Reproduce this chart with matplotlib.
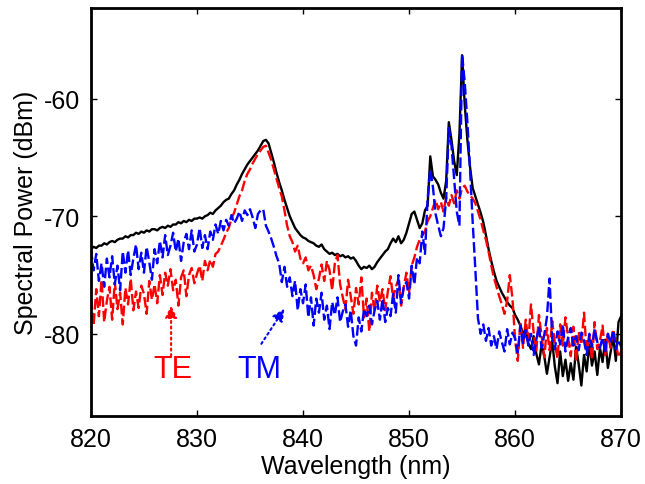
import numpy as np
import matplotlib
matplotlib.use('Agg')
import matplotlib.pyplot as plt

plt.rcParams['font.family'] = ['Liberation Sans', 'DejaVu Sans']
plt.rcParams['axes.unicode_minus'] = False

# wavelength grid of the OSA trace, 0.25 nm step
wl = np.linspace(820, 870, 201)

# total output (solid black)
total = [
    -72.8, -72.6, -72.7, -72.5, -72.5, -72.3, -72.4, -72.2,
    -72.1, -72.2, -72.0, -71.9, -71.9, -71.7, -71.8, -71.6,
    -71.6, -71.4, -71.5, -71.3, -71.4, -71.2, -71.3, -71.1,
    -71.1, -71.2, -71.0, -70.9, -71.0, -70.8, -70.9, -70.7,
    -70.7, -70.5, -70.6, -70.4, -70.5, -70.3, -70.4, -70.2,
    -70.2, -70.1, -70.2, -70.0, -69.9, -69.7, -69.8, -69.5,
    -69.3, -69.1, -68.8, -68.6, -68.5, -68.1, -67.8, -67.3,
    -66.9, -66.4, -66.0, -65.6, -65.3, -65.0, -64.7, -64.4,
    -64.0, -63.6, -63.5, -63.8, -64.6, -65.4, -66.3, -67.1,
    -67.8, -68.6, -69.3, -70.0, -70.5, -71.0, -71.3, -71.6,
    -71.8, -71.9, -72.1, -72.2, -72.3, -72.5, -72.6, -72.4,
    -72.8, -73.0, -73.2, -73.1, -73.3, -73.2, -73.4, -73.3,
    -73.5, -73.4, -73.6, -73.5, -73.8, -74.2, -74.5, -74.3,
    -74.4, -74.2, -74.5, -74.3, -73.9, -73.6, -73.3, -73.0,
    -72.8, -72.3, -71.9, -72.2, -71.7, -72.3, -72.0, -71.4,
    -70.6, -69.8, -69.6, -70.3, -71.0, -70.6, -69.5, -69.1,
    -64.9, -66.6, -66.9, -67.3, -68.0, -68.5, -67.0, -62.0,
    -63.5, -65.3, -66.5, -63.0, -56.3, -60.5, -63.5, -65.8,
    -67.6, -68.3, -69.0, -69.7, -70.5, -71.6, -72.8, -73.8,
    -74.7, -75.5, -76.0, -76.5, -76.9, -77.3, -77.6, -77.8,
    -78.4, -78.8, -79.3, -80.0, -79.6, -80.8, -81.3, -80.2,
    -81.7, -82.6, -80.9, -81.9, -83.4, -82.0, -80.6, -82.8,
    -84.2, -81.5, -83.6, -82.2, -84.0, -82.5, -83.9, -81.1,
    -82.6, -84.4, -81.8, -83.2, -80.8, -82.7, -81.5, -83.5,
    -81.2, -82.4, -80.5, -82.9, -81.6, -80.2, -82.3, -79.0,
    -78.5,
]

# TE polarised (dashed red)
te = [
    -77.0, -79.3, -76.2, -78.5, -75.4, -79.0, -77.2, -76.0,
    -78.8, -75.6, -77.9, -76.5, -79.2, -76.1, -77.5, -75.3,
    -78.0, -76.4, -77.8, -75.9, -76.6, -78.3, -75.5, -77.1,
    -75.8, -77.4, -75.0, -76.7, -74.8, -75.9, -74.5, -76.3,
    -75.4, -77.6, -75.2, -74.6, -76.8, -75.0, -74.4, -75.7,
    -74.9, -74.2, -75.5, -73.8, -74.6, -73.7, -74.3, -73.2,
    -73.0, -72.5, -72.0, -71.4, -71.0, -70.2, -69.7, -69.0,
    -68.3, -67.8, -67.0, -66.4, -66.0, -65.5, -65.1, -64.7,
    -64.4, -64.1, -64.0, -64.6, -65.2, -66.0, -66.8, -67.6,
    -68.3, -69.5, -70.8, -71.7, -72.2, -73.0, -72.5, -73.6,
    -74.0, -73.5, -74.6, -74.2, -75.0, -76.2, -75.3, -74.1,
    -75.5, -73.8, -74.6, -76.3, -74.0, -73.3, -75.8, -76.9,
    -77.9, -75.4, -76.8, -78.3, -76.1, -77.5, -75.2, -78.6,
    -77.0, -79.8, -76.5, -78.1, -75.9, -77.3, -76.2, -78.0,
    -76.4, -75.1, -77.0, -76.0, -75.4, -77.6, -76.0, -74.8,
    -76.5, -74.2, -73.5, -72.6, -72.0, -71.6, -71.3, -70.4,
    -70.0, -69.3, -68.6, -69.4, -68.8, -69.6, -68.4, -69.1,
    -68.2, -68.9, -67.8, -68.5, -67.6, -67.4, -67.9, -68.2,
    -68.5, -68.9, -69.6, -70.3, -71.2, -72.0, -73.0, -74.2,
    -75.2, -76.0, -76.8, -77.5, -78.3, -77.2, -75.0, -77.0,
    -80.5, -82.3, -79.0, -81.2, -78.8, -80.6, -77.5, -79.9,
    -81.5, -78.4, -80.2, -82.0, -79.5, -81.4, -78.9, -80.8,
    -82.1, -79.2, -81.0, -78.6, -80.3, -81.9, -79.4, -82.4,
    -79.8, -80.9, -78.2, -81.6, -80.1, -82.2, -79.0, -81.3,
    -80.6, -79.3, -81.8, -80.0, -81.2, -79.6, -80.8, -82.0,
    -81.5,
]

# TM polarised (dashed blue)
tm = [
    -72.8, -74.6, -73.2, -75.5, -74.0, -76.0, -73.6, -75.2,
    -73.4, -75.8, -74.2, -76.3, -73.0, -74.8, -72.9, -75.0,
    -73.6, -72.4, -74.5, -73.1, -74.8, -72.6, -73.9, -75.4,
    -72.8, -74.0, -72.1, -73.5, -71.6, -73.3, -72.5, -71.4,
    -73.0, -71.9, -73.8, -72.2, -71.5, -72.8, -71.2, -73.0,
    -72.4, -71.0, -72.7, -71.6, -72.8, -71.3, -72.0, -70.7,
    -71.5, -70.4, -71.2, -70.3, -70.8, -69.9, -70.6, -70.2,
    -69.6, -70.4, -69.5, -69.9, -69.4, -70.1, -71.0, -69.8,
    -69.5, -69.4, -70.8, -71.3, -71.9, -72.6, -73.4, -74.0,
    -75.6, -74.3, -76.0, -75.2, -76.8, -75.5, -78.0, -76.2,
    -77.4, -75.8, -78.6, -76.9, -79.3, -77.0, -78.2, -76.5,
    -78.8, -77.6, -79.6, -77.3, -78.4, -76.9, -79.0, -78.1,
    -77.5, -79.4, -78.0, -80.2, -81.0, -78.6, -79.8, -77.9,
    -78.5, -77.6, -79.2, -78.0, -77.2, -78.8, -77.0, -79.0,
    -77.8, -78.5, -76.6, -78.2, -75.0, -77.4, -76.0, -75.6,
    -77.0, -74.2, -75.8, -73.5, -74.0, -71.3, -73.2, -68.5,
    -66.0, -67.5, -69.8, -70.8, -71.7, -71.0, -68.5, -62.5,
    -64.0, -66.8, -69.6, -70.8, -56.2, -58.6, -62.0, -66.0,
    -70.5, -74.5, -78.7, -80.0, -79.2, -80.6, -79.5, -81.0,
    -80.2, -81.3, -79.8, -80.7, -81.5, -79.6, -80.9, -79.9,
    -80.4, -81.6, -79.3, -80.8, -79.7, -81.0, -80.0, -81.8,
    -80.5, -79.4, -81.2, -80.1, -78.6, -75.3, -80.4, -81.3,
    -79.8, -80.9, -79.2, -81.5, -80.3, -79.5, -81.0, -80.2,
    -81.4, -79.9, -80.6, -81.8, -80.0, -81.1, -79.6, -80.7,
    -81.2, -80.3, -81.6, -80.0, -80.8, -79.7, -81.3, -80.5,
    -81.1,
]

fig = plt.figure(figsize=(6.45, 4.85), dpi=100)
ax = fig.add_axes([0.141, 0.140, 0.822, 0.841])

ax.plot(wl, total, color='k', lw=1.7)
ax.plot(wl, te, color='r', lw=1.7, linestyle=(0, (4.5, 1.6)))
ax.plot(wl, tm, color='b', lw=1.7, linestyle=(0, (4.5, 1.6)))

ax.set_xlim(820, 870)
ax.set_ylim(-87, -52.3)
ax.set_xticks([820, 830, 840, 850, 860, 870])
ax.set_yticks([-80, -70, -60])
ax.tick_params(direction='in', top=True, right=True, length=4, width=1,
               labelsize=18, pad=8)
for sp in ax.spines.values():
    sp.set_linewidth(2)

ax.set_xlabel('Wavelength (nm)', fontsize=18, labelpad=2)
ax.set_ylabel('Spectral Power (dBm)', fontsize=18, labelpad=4)

# labels with dotted arrows
ax.text(827.75, -83.0, 'TE', color='r', fontsize=22, ha='center', va='center')
ax.text(835.9, -83.0, 'TM', color='b', fontsize=22, ha='center', va='center')
ax.annotate('', xy=(827.56, -77.6), xytext=(827.56, -81.9),
            arrowprops=dict(arrowstyle='-|>', color='r', lw=1.5,
                            linestyle=':', mutation_scale=18,
                            shrinkA=0, shrinkB=0))
ax.annotate('', xy=(838.24, -77.87), xytext=(836.07, -80.85),
            arrowprops=dict(arrowstyle='-|>', color='b', lw=1.5,
                            linestyle=':', mutation_scale=18,
                            shrinkA=0, shrinkB=0))

plt.savefig('out.png', dpi=100)
